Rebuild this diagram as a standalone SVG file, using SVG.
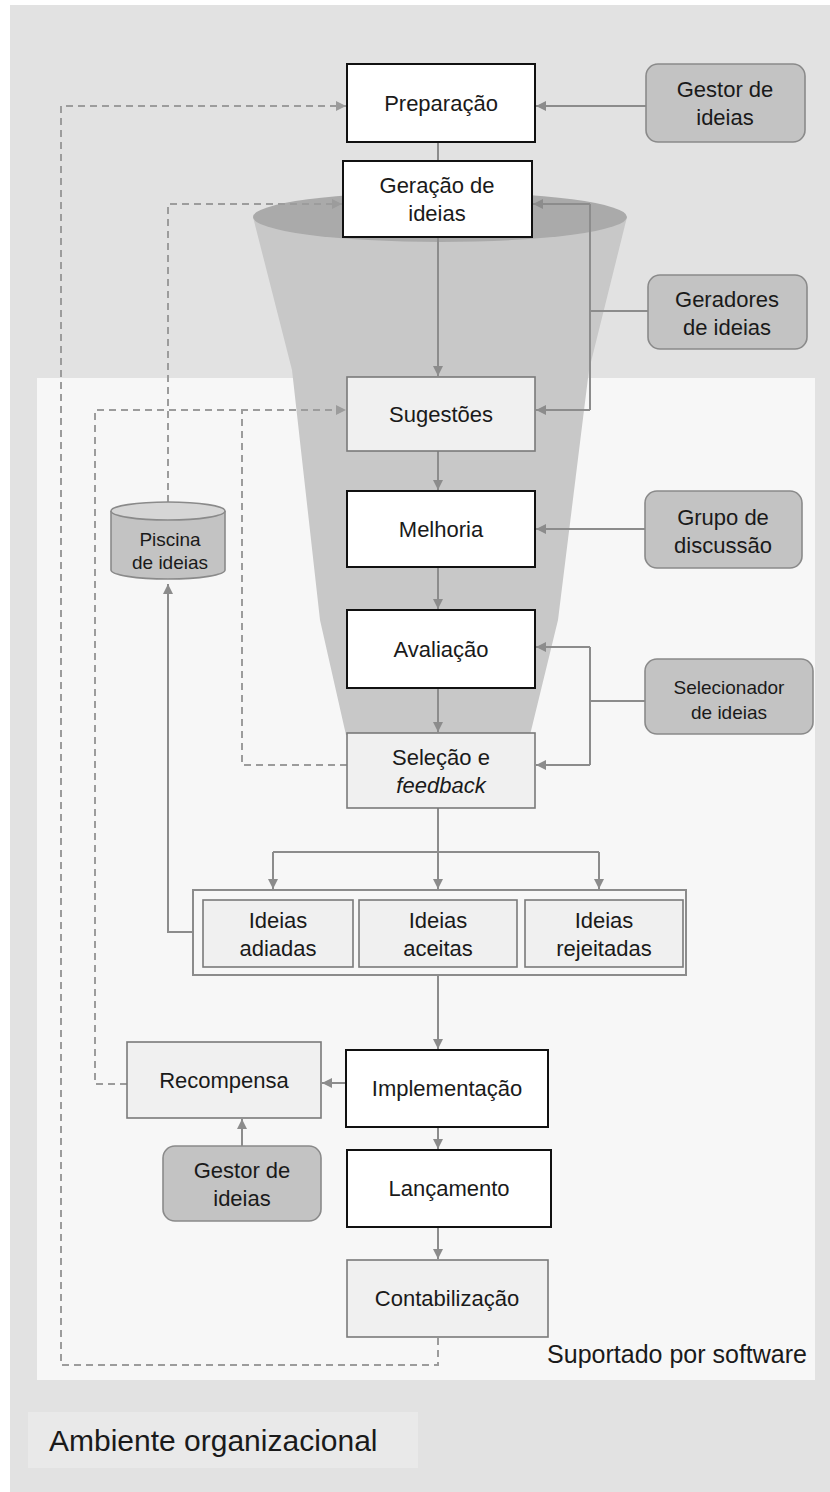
<svg xmlns="http://www.w3.org/2000/svg" width="830" height="1492" viewBox="0 0 830 1492">
  <style>
    text { font-family: "Liberation Sans", Arial, sans-serif; fill: #1a1a1a; text-anchor: middle; }
    .lbl { font-size: 22px; }
    .sm { font-size: 19px; }
    .step { fill: #ffffff; stroke: #111111; stroke-width: 2; }
    .soft { fill: #f0f0f0; stroke: #7a7a7a; stroke-width: 1.6; }
    .actor { fill: #c3c3c3; stroke: #8a8a8a; stroke-width: 1.6; }
    .flow { fill: none; stroke: #8c8c8c; stroke-width: 2; }
    .dash { fill: none; stroke: #9c9c9c; stroke-width: 2; stroke-dasharray: 7 5; }
  </style>
  <defs>
    <marker id="arr" markerUnits="userSpaceOnUse" markerWidth="10" markerHeight="10" refX="10" refY="5" orient="auto">
      <path d="M0,0 L10,5 L0,10 z" fill="#8c8c8c"/>
    </marker>
    <marker id="arrd" markerUnits="userSpaceOnUse" markerWidth="10" markerHeight="10" refX="10" refY="5" orient="auto">
      <path d="M0,0 L10,5 L0,10 z" fill="#9c9c9c"/>
    </marker>
  </defs>

  <!-- environment layers -->
  <rect x="0" y="0" width="830" height="1492" fill="#ffffff"/>
  <rect id="ambiente" x="10" y="5" width="820" height="1487" fill="#e2e2e2"/>
  <rect id="software" x="37" y="378" width="778" height="1002" fill="#f7f7f7"/>
  <rect x="28" y="1412" width="390" height="56" fill="#e9e9e9"/>
  <text x="49" y="1451" style="font-size:30px;text-anchor:start">Ambiente organizacional</text>
  <text x="807" y="1363" style="font-size:25px;text-anchor:end">Suportado por software</text>

  <!-- funnel -->
  <g id="funil">
    <path d="M253,217 L292,370 L320,620 L346,735 L530,735 L558,620 L589,370 L627,217 Z" fill="#c8c8c8"/>
    <ellipse cx="440" cy="217" rx="187" ry="25" fill="#aaaaaa"/>
  </g>

  <!-- connectors -->
  <g id="conectores">
    <path class="flow" d="M646,106 H536" marker-end="url(#arr)"/>
    <path class="flow" d="M438,142 V161"/>
    <path class="flow" d="M438,237 V376" marker-end="url(#arr)"/>
    <path class="flow" d="M648,311 H590"/>
    <path class="flow" d="M590,204 V410"/>
    <path class="flow" d="M590,204 H533" marker-end="url(#arr)"/>
    <path class="flow" d="M590,410 H536" marker-end="url(#arr)"/>
    <path class="flow" d="M438,451 V490" marker-end="url(#arr)"/>
    <path class="flow" d="M645,529 H536" marker-end="url(#arr)"/>
    <path class="flow" d="M438,567 V609" marker-end="url(#arr)"/>
    <path class="flow" d="M645,701 H590"/>
    <path class="flow" d="M590,647 V765"/>
    <path class="flow" d="M590,647 H536" marker-end="url(#arr)"/>
    <path class="flow" d="M590,765 H536" marker-end="url(#arr)"/>
    <path class="flow" d="M438,688 V732" marker-end="url(#arr)"/>
    <path class="flow" d="M438,808 V889" marker-end="url(#arr)"/>
    <path class="flow" d="M273,852 H599"/>
    <path class="flow" d="M273,852 V889" marker-end="url(#arr)"/>
    <path class="flow" d="M599,852 V889" marker-end="url(#arr)"/>
    <path class="flow" d="M193,932 H168 V584" marker-end="url(#arr)"/>
    <path class="flow" d="M438,975 V1049" marker-end="url(#arr)"/>
    <path class="flow" d="M346,1083 H322" marker-end="url(#arr)"/>
    <path class="flow" d="M242,1146 V1119" marker-end="url(#arr)"/>
    <path class="flow" d="M438,1127 V1149" marker-end="url(#arr)"/>
    <path class="flow" d="M438,1227 V1259" marker-end="url(#arr)"/>
    <path class="dash" d="M438,1338 V1365 H61 V106 H346" marker-end="url(#arrd)"/>
    <path class="dash" d="M127,1084 H95 V410 H346" marker-end="url(#arrd)"/>
    <path class="dash" d="M347,765 H242 V410"/>
    <path class="dash" d="M168,502 V204 H342" marker-end="url(#arrd)"/>
  </g>

  <!-- process steps -->
  <g id="preparacao">
    <rect class="step" x="347" y="64" width="188" height="78"/>
    <text class="lbl" x="441" y="111">Preparação</text>
  </g>
  <g id="geracao">
    <rect class="step" x="343" y="161" width="189" height="76"/>
    <text class="lbl" x="437" y="193">Geração de</text>
    <text class="lbl" x="437" y="221">ideias</text>
  </g>
  <g id="sugestoes">
    <rect class="soft" x="347" y="377" width="188" height="74"/>
    <text class="lbl" x="441" y="422">Sugestões</text>
  </g>
  <g id="melhoria">
    <rect class="step" x="347" y="491" width="188" height="76"/>
    <text class="lbl" x="441" y="537">Melhoria</text>
  </g>
  <g id="avaliacao">
    <rect class="step" x="347" y="610" width="188" height="78"/>
    <text class="lbl" x="441" y="657">Avaliação</text>
  </g>
  <g id="selecao">
    <rect class="soft" x="347" y="733" width="188" height="75"/>
    <text class="lbl" x="441" y="765">Seleção e</text>
    <text class="lbl" x="441" y="793" font-style="italic">feedback</text>
  </g>
  <g id="resultados">
    <rect x="193" y="890" width="493" height="85" fill="#f7f7f7" stroke="#8c8c8c" stroke-width="2"/>
  </g>
  <g id="adiadas">
    <rect class="soft" x="203" y="900" width="150" height="67" stroke-width="2.5"/>
    <text class="lbl" x="278" y="928">Ideias</text>
    <text class="lbl" x="278" y="956">adiadas</text>
  </g>
  <g id="aceitas">
    <rect class="soft" x="359" y="900" width="158" height="67"/>
    <text class="lbl" x="438" y="928">Ideias</text>
    <text class="lbl" x="438" y="956">aceitas</text>
  </g>
  <g id="rejeitadas">
    <rect class="soft" x="525" y="900" width="158" height="67"/>
    <text class="lbl" x="604" y="928">Ideias</text>
    <text class="lbl" x="604" y="956">rejeitadas</text>
  </g>
  <g id="recompensa">
    <rect class="soft" x="127" y="1042" width="194" height="76"/>
    <text class="lbl" x="224" y="1088">Recompensa</text>
  </g>
  <g id="implementacao">
    <rect class="step" x="346" y="1050" width="202" height="77"/>
    <text class="lbl" x="447" y="1096">Implementação</text>
  </g>
  <g id="lancamento">
    <rect class="step" x="347" y="1150" width="204" height="77"/>
    <text class="lbl" x="449" y="1196">Lançamento</text>
  </g>
  <g id="contabilizacao">
    <rect class="soft" x="347" y="1260" width="201" height="77"/>
    <text class="lbl" x="447" y="1306">Contabilização</text>
  </g>

  <!-- pool of ideas -->
  <g id="piscina">
    <path d="M111,511 V570 A57,9 0 0 0 225,570 V511" fill="#c3c3c3" stroke="#8a8a8a" stroke-width="1.6"/>
    <ellipse cx="168" cy="511" rx="57" ry="9" fill="#d6d6d6" stroke="#8a8a8a" stroke-width="1.6"/>
    <text class="sm" x="170" y="546">Piscina</text>
    <text class="sm" x="170" y="569">de ideias</text>
  </g>

  <!-- actors -->
  <g id="gestor-topo">
    <rect class="actor" x="646" y="64" width="159" height="78" rx="12"/>
    <text class="lbl" x="725" y="97">Gestor de</text>
    <text class="lbl" x="725" y="125">ideias</text>
  </g>
  <g id="geradores">
    <rect class="actor" x="648" y="275" width="159" height="74" rx="12"/>
    <text class="lbl" x="727" y="307">Geradores</text>
    <text class="lbl" x="727" y="335">de ideias</text>
  </g>
  <g id="grupo">
    <rect class="actor" x="645" y="491" width="157" height="77" rx="12"/>
    <text class="lbl" x="723" y="525">Grupo de</text>
    <text class="lbl" x="723" y="553">discussão</text>
  </g>
  <g id="selecionador">
    <rect class="actor" x="645" y="659" width="168" height="75" rx="12"/>
    <text class="sm" x="729" y="694">Selecionador</text>
    <text class="sm" x="729" y="719">de ideias</text>
  </g>
  <g id="gestor-base">
    <rect class="actor" x="163" y="1146" width="158" height="75" rx="12"/>
    <text class="lbl" x="242" y="1178">Gestor de</text>
    <text class="lbl" x="242" y="1206">ideias</text>
  </g>
</svg>
